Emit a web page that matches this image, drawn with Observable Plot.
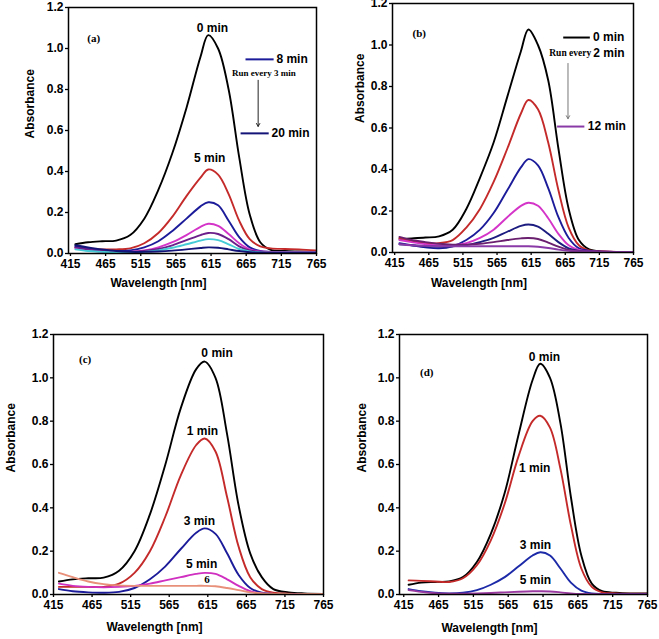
<!DOCTYPE html>
<html><head><meta charset="utf-8">
<script src="https://cdn.jsdelivr.net/npm/d3@7"></script>
<script src="https://cdn.jsdelivr.net/npm/@observablehq/plot@0.6"></script>
<style>
body{margin:0;background:#fff;}
#wrap{position:relative;width:659px;height:639px;overflow:hidden;background:#fff;}
.panel{position:absolute;}
</style></head><body><div id="wrap"></div>
<script>
// ---------- data ----------
const wavelengths = [422, 440, 460, 480, 500, 520, 540, 560, 580, 600, 611, 625, 640, 655, 670, 685, 700, 720, 740, 765];
const xTicks = [415, 465, 515, 565, 615, 665, 715, 765];
const yTicks = [0, 0.2, 0.4, 0.6, 0.8, 1.0, 1.2];

// (a) run every 3 min
const aTimes = ["0 min", "5 min", "8 min", "11 min", "14 min", "17 min", "20 min"];
const aValues = [
  [0.045, 0.055, 0.060, 0.063, 0.090, 0.17, 0.31, 0.49, 0.71, 0.96, 1.065, 1.00, 0.80, 0.47, 0.19, 0.055, 0.018, 0.012, 0.010, 0.008],
  [0.030, 0.025, 0.020, 0.020, 0.025, 0.05, 0.10, 0.18, 0.28, 0.37, 0.410, 0.385, 0.29, 0.16, 0.07, 0.035, 0.025, 0.022, 0.020, 0.015],
  [0.035, 0.025, 0.015, 0.012, 0.015, 0.03, 0.06, 0.11, 0.17, 0.23, 0.250, 0.235, 0.16, 0.08, 0.03, 0.012, 0.008, 0.006, 0.005, 0.005],
  [0.025, 0.015, 0.008, 0.005, 0.008, 0.015, 0.03, 0.055, 0.09, 0.13, 0.145, 0.135, 0.095, 0.05, 0.02, 0.010, 0.008, 0.008, 0.008, 0.008],
  [0.030, 0.020, 0.012, 0.008, 0.008, 0.012, 0.022, 0.04, 0.065, 0.09, 0.100, 0.095, 0.07, 0.035, 0.015, 0.008, 0.006, 0.006, 0.006, 0.006],
  [0.020, 0.012, 0.008, 0.005, 0.005, 0.008, 0.015, 0.028, 0.045, 0.063, 0.070, 0.065, 0.045, 0.022, 0.010, 0.005, 0.004, 0.004, 0.004, 0.004],
  [0.040, 0.030, 0.020, 0.012, 0.008, 0.008, 0.010, 0.014, 0.020, 0.027, 0.030, 0.028, 0.020, 0.012, 0.006, 0.004, 0.003, 0.003, 0.003, 0.003]
];

// (b) run every 2 min
const bTimes = ["0 min", "2 min", "4 min", "6 min", "8 min", "10 min", "12 min"];
const bValues = [
  [0.065, 0.068, 0.072, 0.078, 0.11, 0.21, 0.36, 0.53, 0.75, 0.97, 1.075, 1.00, 0.83, 0.50, 0.21, 0.060, 0.015, 0.005, 0.003, 0.003],
  [0.070, 0.055, 0.045, 0.045, 0.06, 0.12, 0.21, 0.34, 0.50, 0.67, 0.735, 0.69, 0.53, 0.30, 0.12, 0.035, 0.010, 0.005, 0.003, 0.003],
  [0.045, 0.035, 0.025, 0.020, 0.03, 0.06, 0.11, 0.19, 0.30, 0.41, 0.450, 0.42, 0.31, 0.17, 0.07, 0.020, 0.008, 0.004, 0.003, 0.003],
  [0.060, 0.050, 0.040, 0.035, 0.035, 0.045, 0.07, 0.11, 0.17, 0.225, 0.240, 0.225, 0.165, 0.09, 0.035, 0.012, 0.006, 0.004, 0.003, 0.003],
  [0.040, 0.035, 0.030, 0.028, 0.030, 0.035, 0.05, 0.07, 0.10, 0.128, 0.135, 0.125, 0.09, 0.05, 0.02, 0.008, 0.005, 0.003, 0.003, 0.003],
  [0.075, 0.060, 0.050, 0.042, 0.038, 0.038, 0.042, 0.05, 0.06, 0.068, 0.070, 0.065, 0.048, 0.028, 0.012, 0.006, 0.004, 0.003, 0.003, 0.003],
  [0.040, 0.035, 0.032, 0.030, 0.030, 0.030, 0.030, 0.03, 0.03, 0.030, 0.030, 0.028, 0.022, 0.014, 0.008, 0.005, 0.004, 0.003, 0.003, 0.003]
];

// (c)
const cTimes = ["0 min", "1 min", "3 min", "5 min", "6 min"];
const cValues = [
  [0.060, 0.070, 0.075, 0.078, 0.11, 0.20, 0.37, 0.60, 0.86, 1.04, 1.075, 1.00, 0.74, 0.41, 0.19, 0.080, 0.025, 0.010, 0.005, 0.003],
  [0.035, 0.035, 0.035, 0.035, 0.05, 0.10, 0.20, 0.36, 0.55, 0.69, 0.720, 0.66, 0.45, 0.22, 0.08, 0.025, 0.008, 0.004, 0.003, 0.003],
  [0.025, 0.015, 0.010, 0.008, 0.012, 0.03, 0.07, 0.13, 0.21, 0.285, 0.305, 0.28, 0.19, 0.09, 0.03, 0.008, 0.003, 0.002, 0.002, 0.002],
  [0.050, 0.040, 0.035, 0.033, 0.035, 0.04, 0.05, 0.065, 0.08, 0.095, 0.100, 0.095, 0.07, 0.04, 0.015, 0.005, 0.003, 0.002, 0.002, 0.002],
  [0.100, 0.080, 0.060, 0.048, 0.042, 0.04, 0.04, 0.04, 0.04, 0.040, 0.040, 0.038, 0.03, 0.02, 0.010, 0.005, 0.003, 0.002, 0.002, 0.002]
];

// (d)
const dTimes = ["0 min", "1 min", "3 min", "5 min"];
const dValues = [
  [0.045, 0.055, 0.058, 0.060, 0.08, 0.15, 0.28, 0.47, 0.74, 0.99, 1.065, 1.00, 0.79, 0.45, 0.18, 0.050, 0.015, 0.008, 0.005, 0.005],
  [0.065, 0.063, 0.060, 0.058, 0.075, 0.135, 0.25, 0.42, 0.64, 0.80, 0.825, 0.77, 0.58, 0.32, 0.12, 0.035, 0.010, 0.005, 0.004, 0.004],
  [0.025, 0.015, 0.008, 0.005, 0.008, 0.02, 0.045, 0.08, 0.13, 0.18, 0.195, 0.18, 0.12, 0.055, 0.018, 0.005, 0.002, 0.002, 0.002, 0.002],
  [0.020, 0.012, 0.006, 0.004, 0.004, 0.005, 0.007, 0.010, 0.013, 0.015, 0.015, 0.014, 0.010, 0.005, 0.002, 0.001, 0.001, 0.001, 0.001, 0.001]
];

// ---------- rendering ----------
const SANS = "'Liberation Sans', Arial, Helvetica, sans-serif";
const SERIF = "'Liberation Serif', 'Times New Roman', serif";

function rowsOf(times, values, colors) {
  const rows = [];
  times.forEach((t, i) => values[i].forEach((a, j) => rows.push({s: t, w: wavelengths[j], a, c: colors[i]})));
  return rows;
}

function textMarks(list, opts) {
  const out = [];
  for (const anchor of ["middle", "start", "end"]) {
    const sub = (list || []).filter(d => (d.anchor || "middle") === anchor);
    if (sub.length) out.push(Plot.text(sub, {x: "x", y: "y", text: "t", textAnchor: anchor, fill: "black", ...opts}));
  }
  return out;
}

function panel(cfg) {
  const rows = rowsOf(cfg.times, cfg.values, cfg.colors);
  const marks = [
    Plot.line(rows, {x: "w", y: "a", z: "s", stroke: "c", strokeWidth: 1.9, curve: "catmull-rom", clip: true}),
    Plot.frame({stroke: "black", strokeWidth: 1.5}),
    Plot.axisX({ticks: xTicks, tickSize: 3, tickPadding: 3, tickFormat: d3.format("d"), label: null, stroke: "black", strokeWidth: 1.3}),
    Plot.axisY({ticks: yTicks, tickSize: 3, tickPadding: 2, tickFormat: d3.format(".1f"), label: null, stroke: "black", strokeWidth: 1.3}),
    Plot.text(["Wavelength [nm]"], {frameAnchor: "bottom", dy: cfg.xlabDy, dx: -34, fontWeight: "bold", fontSize: 12, fill: "black"}),
    Plot.text(["Absorbance"], {frameAnchor: "left", dx: cfg.ylabDx, dy: cfg.ylabDy, rotate: -90, fontWeight: "bold", fontSize: 12, fill: "black"}),
    Plot.text([cfg.tag], {x: cfg.tagPos[0], y: cfg.tagPos[1], fontFamily: SERIF, fontWeight: "bold", fontSize: 11, fill: "black"}),
    ...textMarks(cfg.labels, {fontWeight: "bold", fontSize: 12}),
    ...textMarks(cfg.serifLabels, {fontFamily: SERIF, fontWeight: "bold", fontSize: cfg.serifSize || 9}),
    Plot.link(cfg.legendLines || [], {x1: "x1", x2: "x2", y1: "y", y2: "y", stroke: "c", strokeWidth: 2}),
    Plot.arrow(cfg.arrows || [], {x1: "x", x2: "x", y1: "y1", y2: "y2", stroke: "c", strokeWidth: 1, headLength: 5})
  ];
  const chart = Plot.plot({
    width: cfg.width, height: cfg.height,
    marginLeft: cfg.m[0], marginRight: cfg.m[1], marginTop: cfg.m[2], marginBottom: cfg.m[3],
    x: {domain: cfg.xDomain},
    y: {domain: [0, 1.2]},
    style: {fontFamily: SANS, fontSize: "12px", fontWeight: "bold", color: "black", background: "transparent", overflow: "visible"},
    marks
  });
  const div = document.createElement("div");
  div.className = "panel";
  div.style.left = cfg.left + "px";
  div.style.top = cfg.top + "px";
  div.appendChild(chart);
  document.getElementById("wrap").appendChild(div);
}

panel({
  left: 0, top: 0, width: 330, height: 300, m: [68, 14, 7, 47], xDomain: [412.2, 765],
  times: aTimes, values: aValues,
  colors: ["#000000", "#c42a2a", "#1c1c9a", "#d435c8", "#6b1f8a", "#44cbd6", "#141478"],
  xlabDy: 33, ylabDx: -38, ylabDy: 8,
  tag: "(a)", tagPos: [448, 1.05],
  labels: [
    {t: "0 min", x: 617, y: 1.10},
    {t: "5 min", x: 613, y: 0.463},
    {t: "8 min", x: 708, y: 0.947, anchor: "start"},
    {t: "20 min", x: 701, y: 0.586, anchor: "start"}
  ],
  serifLabels: [{t: "Run every 3 min", x: 690, y: 0.88}],
  serifSize: 9,
  legendLines: [{x1: 664, x2: 704, y: 0.947, c: "#1c1c9a"}, {x1: 657, x2: 697, y: 0.586, c: "#141478"}],
  arrows: [{x: 682, y1: 0.845, y2: 0.62, c: "#222"}]
});

panel({
  left: 330, top: 0, width: 329, height: 300, m: [62, 26, 3, 48], xDomain: [411.8, 765],
  times: bTimes, values: bValues,
  colors: ["#000000", "#c42a2a", "#1c1c9a", "#d435c8", "#1c1c80", "#6b1f6f", "#8a3aa6"],
  xlabDy: 34, ylabDx: -32, ylabDy: -5,
  tag: "(b)", tagPos: [451, 1.057],
  labels: [
    {t: "0 min", x: 705.6, y: 1.036, anchor: "start"},
    {t: "2 min", x: 706, y: 0.96, anchor: "start"},
    {t: "12 min", x: 698, y: 0.607, anchor: "start"}
  ],
  serifLabels: [{t: "Run every", x: 703, y: 0.96, anchor: "end"}],
  serifSize: 9.5,
  legendLines: [{x1: 662, x2: 701, y: 1.036, c: "#000000"}, {x1: 653, x2: 693, y: 0.607, c: "#8a3aa6"}],
  arrows: [{x: 669, y1: 0.911, y2: 0.645, c: "#777"}]
});

panel({
  left: 0, top: 300, width: 330, height: 339, m: [53, 7, 34, 45], xDomain: [415, 765],
  times: cTimes, values: cValues,
  colors: ["#000000", "#c42a2a", "#1c1c9a", "#d030c0", "#e8907a"],
  xlabDy: 36, ylabDx: -42, ylabDy: 8,
  tag: "(c)", tagPos: [456, 1.085],
  labels: [
    {t: "0 min", x: 627, y: 1.112},
    {t: "1 min", x: 608, y: 0.753},
    {t: "3 min", x: 604, y: 0.337},
    {t: "5 min", x: 607, y: 0.142}
  ],
  serifLabels: [{t: "6", x: 614, y: 0.068}],
  serifSize: 11
});

panel({
  left: 330, top: 300, width: 329, height: 339, m: [69, 12, 34, 45], xDomain: [408.9, 765],
  times: dTimes, values: dValues,
  colors: ["#000000", "#c42a2a", "#1c2aa8", "#9a3aa0"],
  xlabDy: 37, ylabDx: -37, ylabDy: 8,
  tag: "(d)", tagPos: [448, 1.027],
  labels: [
    {t: "0 min", x: 617, y: 1.097},
    {t: "1 min", x: 603, y: 0.584},
    {t: "3 min", x: 604, y: 0.23},
    {t: "5 min", x: 604, y: 0.068}
  ]
});
</script>
</body></html>
